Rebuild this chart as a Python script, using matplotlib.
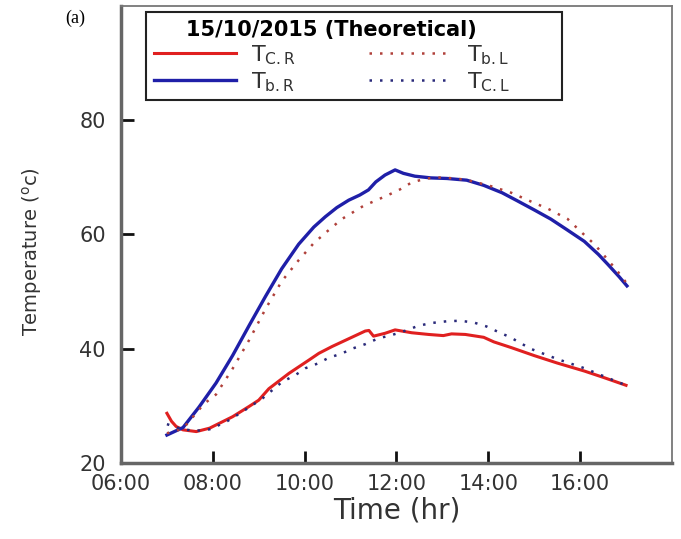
import matplotlib.pyplot as plt
from matplotlib.patches import Rectangle

# Dados (hora decimal, temperatura em oC)
t_cr = [7.0, 7.1, 7.2, 7.35, 7.64, 7.93, 8.43, 8.79, 9.0, 9.22, 9.66, 10.09, 10.31, 10.6,
        11.0, 11.32, 11.4, 11.5, 11.75, 11.97, 12.33, 12.7, 13.02, 13.2, 13.5, 13.9, 14.12,
        14.5, 15.0, 15.5, 16.09, 16.5, 17.0]
temp_cr = [28.7, 27.3, 26.4, 25.8, 25.5, 26.1, 28.1, 29.9, 31.0, 33.0, 35.7, 38.0, 39.2, 40.4,
           41.9, 43.1, 43.2, 42.2, 42.7, 43.3, 42.8, 42.5, 42.3, 42.6, 42.5, 42.0, 41.2,
           40.2, 38.8, 37.5, 36.1, 35.0, 33.6]

t_br = [7.0, 7.35, 7.7, 8.07, 8.43, 8.8, 9.15, 9.5, 9.87, 10.2, 10.45, 10.7, 10.96, 11.2,
        11.39, 11.55, 11.75, 11.97, 12.15, 12.4, 12.75, 13.1, 13.53, 13.9, 14.3, 14.63,
        15.0, 15.36, 15.7, 16.09, 16.4, 16.6, 16.85, 17.02]
temp_br = [24.9, 26.2, 29.8, 34.0, 38.8, 44.2, 49.2, 54.0, 58.3, 61.3, 63.1, 64.7, 66.0, 66.9,
           67.8, 69.2, 70.4, 71.3, 70.7, 70.2, 69.9, 69.8, 69.5, 68.6, 67.3, 65.9,
           64.3, 62.7, 60.9, 58.8, 56.5, 54.8, 52.6, 51.0]

t_bl = [7.0, 7.35, 7.8, 8.07, 8.43, 8.79, 9.15, 9.5, 9.87, 10.2, 10.5, 10.81, 11.28, 11.82,
        12.08, 12.33, 12.65, 13.0, 13.5, 14.0, 14.5, 14.92, 15.3, 15.73, 16.0, 16.31, 16.6,
        16.82, 17.0]
temp_bl = [25.2, 26.0, 30.3, 32.0, 36.5, 41.5, 47.0, 51.8, 55.5, 58.5, 60.6, 62.7, 65.0, 66.9,
           67.9, 69.1, 69.8, 70.0, 69.6, 68.6, 67.3, 65.8, 64.5, 62.7, 60.6, 58.3, 55.6,
           53.5, 51.6]

t_cl = [7.0, 7.3, 7.6, 7.93, 8.29, 8.65, 9.08, 9.51, 9.8, 10.02, 10.28, 10.52, 10.82, 11.03,
        11.32, 11.6, 11.9, 12.21, 12.47, 12.76, 13.09, 13.38, 13.68, 13.96, 14.2, 14.48,
        14.92, 15.5, 16.09, 16.6, 17.0]
temp_cl = [26.8, 26.0, 25.6, 25.9, 27.2, 29.0, 31.3, 34.2, 35.4, 36.6, 37.4, 38.4, 39.2, 40.0,
           40.8, 41.8, 42.4, 43.2, 44.0, 44.5, 44.8, 44.9, 44.6, 43.9, 43.0, 42.0,
           40.0, 38.2, 36.6, 34.9, 33.6]

horas = [6, 8, 10, 12, 14, 16]
rotulos_horas = ['06:00', '08:00', '10:00', '12:00', '14:00', '16:00']
valores_y = [20, 40, 60, 80]

cinza = '#333333'

fig = plt.figure(figsize=(6.81, 5.39), dpi=100)
ax = fig.add_axes([0.1777, 0.141, 0.809, 0.848])

# Curvas
ax.plot(t_cr, temp_cr, color='#e02020', lw=2.2, label=r'$\mathregular{T_{C.R}}$')
ax.plot(t_br, temp_br, color='#1f1fa8', lw=2.4, label=r'$\mathregular{T_{b.R}}$')
ax.plot(t_bl, temp_bl, color='#b0403a', lw=1.8, linestyle=(0, (1, 3.2)), label=r'$\mathregular{T_{b.L}}$')
ax.plot(t_cl, temp_cl, color='#2a2a7a', lw=1.8, linestyle=(0, (1, 3.2)), label=r'$\mathregular{T_{C.L}}$')

# Eixos
ax.set_xlim(6, 18)
ax.set_ylim(20, 100)
ax.set_xticks(horas)
ax.set_xticklabels(rotulos_horas)
ax.set_yticks(valores_y)
ax.tick_params(direction='in', length=9, width=2, color='#111111',
               labelsize=15, labelcolor=cinza)
ax.tick_params(axis='x', pad=8)
ax.tick_params(axis='y', pad=11)
for lado in ['left', 'bottom']:
    ax.spines[lado].set_linewidth(2.5)
    ax.spines[lado].set_color('#666666')
for lado in ['top', 'right']:
    ax.spines[lado].set_linewidth(1.3)
    ax.spines[lado].set_color('#777777')

ax.set_xlabel('Time (hr)', fontsize=20, color=cinza, labelpad=2)
ax.set_ylabel(r'Temperature ($\mathregular{^{o}}$c)', fontsize=14, color=cinza)
ax.yaxis.set_label_coords(-0.140, 0.462)

# Legenda (sem moldura própria; a moldura é desenhada à parte)
leg = ax.legend(ncol=2, loc='upper left', bbox_to_anchor=(0.2144, 0.978),
                bbox_transform=fig.transFigure, borderaxespad=0,
                title='15/10/2015 (Theoretical)',
                title_fontproperties={'weight': 'bold', 'size': 15},
                fontsize=16, handlelength=3.7, handletextpad=0.68, columnspacing=3.3,
                labelspacing=0.15, frameon=False, borderpad=0.35)
for txt in leg.get_texts():
    txt.set_color(cinza)

moldura = Rectangle((146 / 681, 1 - 100 / 539), (562 - 146) / 681, 88 / 539,
                    transform=fig.transFigure, fill=False, edgecolor='#222222', lw=1.5)
fig.add_artist(moldura)

fig.text(0.110, 0.966, '(a)', fontsize=13, family='Liberation Serif', ha='center', va='center')

plt.savefig('out.png', dpi=100)
